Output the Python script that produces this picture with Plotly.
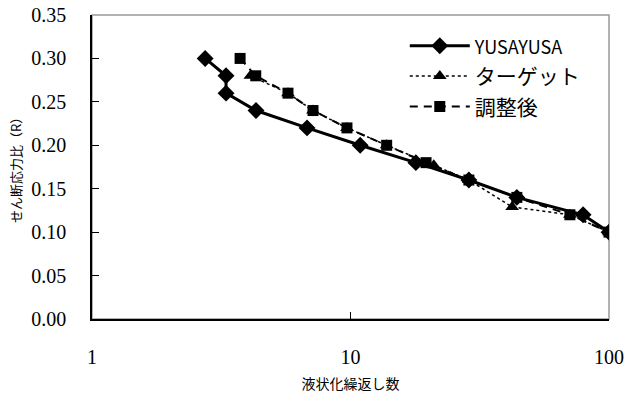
import plotly.graph_objects as go

# YUSAYUSA series
yusa_x = [2.74, 3.3, 3.3, 4.31, 6.79, 10.9, 17.9, 28.7, 44.0, 79.4, 100]
yusa_y = [0.30, 0.28, 0.26, 0.24, 0.22, 0.20, 0.18, 0.16, 0.14, 0.12, 0.10]

# Target series
target_x = [4.1, 5.73, 7.16, 9.69, 13.8, 21.0, 28.7, 42.2, 70.6, 100]
target_y = [0.28, 0.26, 0.24, 0.22, 0.20, 0.177, 0.16, 0.129, 0.12, 0.10]

# Adjusted series
adj_x = [3.74, 4.3, 5.73, 7.16, 9.69, 13.8, 19.6, 28.7, 44.0, 70.6, 100]
adj_y = [0.30, 0.28, 0.26, 0.24, 0.22, 0.20, 0.18, 0.16, 0.14, 0.12, 0.10]

series_names = ["YUSAYUSA", "ターゲット", "調整後"]

x_ticks = [1, 10, 100]
x_tick_text = ["1", "10", "100"]
y_ticks = [0.00, 0.05, 0.10, 0.15, 0.20, 0.25, 0.30, 0.35]

SERIF = "Liberation Serif, Times New Roman, DejaVu Serif, serif"
SANS = "Noto Sans CJK JP, Noto Sans, sans-serif"

fig = go.Figure()
fig.add_trace(go.Scatter(
    x=yusa_x, y=yusa_y, name='<span style="font-size:18px">' + series_names[0] + '</span>',
    mode="lines+markers",
    line=dict(color="black", width=3),
    marker=dict(symbol="diamond", size=13, color="black"),
))
fig.add_trace(go.Scatter(
    x=target_x, y=target_y, name=series_names[1], mode="lines+markers",
    line=dict(color="black", width=1.5, dash="dot"),
    marker=dict(symbol="triangle-up", size=12, color="black"),
))
fig.add_trace(go.Scatter(
    x=adj_x, y=adj_y, name=series_names[2], mode="lines+markers",
    line=dict(color="black", width=2, dash="8px,6px"),
    marker=dict(symbol="square", size=11, color="black"),
))

fig.add_shape(type="rect", xref="paper", yref="paper", x0=0, y0=0, x1=1, y1=1,
              line=dict(color="#999999", width=1.5), layer="below")

fig.update_layout(
    width=624, height=396,
    margin=dict(l=92, r=15, t=15, b=77),
    plot_bgcolor="white", paper_bgcolor="white",
    showlegend=True,
    legend=dict(x=0.605, y=0.965, xanchor="left", yanchor="top",
                bgcolor="rgba(0,0,0,0)", itemwidth=60,
                font=dict(family=SANS, size=21, color="black"),
                tracegroupgap=0),
    xaxis=dict(type="log", range=[0, 2], tickvals=x_ticks, ticktext=x_tick_text,
               showgrid=False, showline=True, linecolor="black", linewidth=1.5,
               ticks="inside", ticklen=7, tickcolor="black", mirror=False,
               ticklabelstandoff=19, zeroline=False, automargin=False,
               tickfont=dict(family=SERIF, size=20, color="black"),
               title=dict(text="液状化繰返し数", standoff=12,
                          font=dict(family=SANS, size=14, color="black"))),
    yaxis=dict(range=[0, 0.35], tickvals=y_ticks, tickformat=".2f",
               showgrid=False, showline=True, linecolor="black", linewidth=1.5,
               ticks="inside", ticklen=7, tickcolor="black", mirror=False,
               ticklabelstandoff=20, zeroline=False, automargin=False,
               tickfont=dict(family=SERIF, size=20, color="black"),
               title=dict(text="せん断応力比（R）", standoff=7,
                          font=dict(family=SANS, size=13, color="black"))),
)

fig.write_html("out.html", config={"displayModeBar": False},
               post_script="document.body.style.margin='0';document.body.style.padding='0';")
